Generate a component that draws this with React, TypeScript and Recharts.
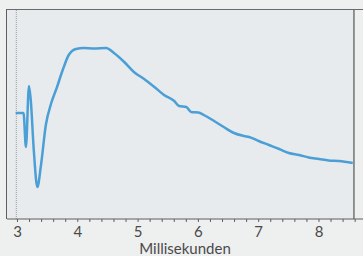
import { LineChart, Line, XAxis, YAxis, ReferenceLine, ReferenceArea, Label } from 'recharts';

// time in ms, response in arbitrary units (no y scale in the original)
const times = [
  2.97, 3.1, 3.14, 3.19, 3.22, 3.27, 3.33, 3.39, 3.47, 3.56, 3.65, 3.75, 3.85, 3.97, 4.1, 4.27, 4.47, 4.6, 4.77,
  4.93, 5.1, 5.27, 5.43, 5.6, 5.68, 5.8, 5.88, 6.0, 6.09, 6.26, 6.42, 6.59, 6.76, 6.84, 7.0, 7.17, 7.34, 7.5,
  7.67, 7.83, 8.0, 8.16, 8.33, 8.56,
];
const response = [
  106, 106, 72, 133, 119, 69, 32, 54, 94, 116, 131, 149, 164, 170, 171, 170.5, 171, 166, 157, 147, 140, 132,
  124, 118, 113, 112, 107, 106.5, 104, 98, 92, 86, 83, 82, 78, 74, 70, 66, 64, 61.5, 60, 58.5, 58, 56,
];
const xTicks = [
  3, 3.2, 3.4, 3.6, 3.8, 4, 4.2, 4.4, 4.6, 4.8, 5, 5.2, 5.4, 5.6, 5.8, 6, 6.2, 6.4, 6.6, 6.8, 7, 7.2, 7.4, 7.6,
  7.8, 8, 8.2, 8.4, 8.6,
];
const xLabel = 'Millisekunden';

const X_MIN = 2.826;
const X_MAX = 8.73;
const X_FRAME = 8.58;
const Y_MAX = 209;

const data = times.map((t, i) => ({ t, v: response[i] }));

export default function App() {
  return (
    <div style={{ position: 'absolute', left: 0, top: 0, width: 363, height: 256, background: '#eeefef' }}>
      <LineChart width={363} height={256} data={data} margin={{ top: 10, right: 0, left: 7, bottom: 0 }}>
        <ReferenceArea x1={X_MIN} x2={X_FRAME} y1={0} y2={Y_MAX} fill="#e8ebed" fillOpacity={1} stroke="none" />
        <XAxis
          dataKey="t"
          type="number"
          domain={[X_MIN, X_MAX]}
          ticks={xTicks}
          allowDataOverflow
          interval={0}
          height={37}
          stroke="#5f5f5f"
          tickSize={3}
          tickMargin={4}
          tick={{ fill: '#4a4a4a', fontSize: 15, fontFamily: 'Lato, sans-serif' }}
          tickFormatter={(v: number) => (Number.isInteger(v) ? String(v) : '')}
        >
          <Label value={xLabel} position="insideBottom" offset={2} fill="#4a4a4a" fontSize={15} fontFamily="Lato, sans-serif" />
        </XAxis>
        <YAxis hide domain={[0, Y_MAX]} />
        <ReferenceLine x={2.98} stroke="#9a9a9a" strokeWidth={1} strokeDasharray="1 1" />
        <ReferenceLine x={X_FRAME} stroke="#5f5f5f" strokeWidth={1.3} />
        <Line type="monotone" dataKey="v" stroke="#4a9fd6" strokeWidth={2.5} dot={false} isAnimationActive={false} />
      </LineChart>
      {/* outer frame: top and left edges */}
      <div
        style={{
          position: 'absolute',
          left: 6,
          top: 9,
          width: 357,
          height: 210,
          borderTop: '1.5px solid #6a6a6a',
          borderLeft: '1.5px solid #5f5f5f',
          boxSizing: 'border-box',
          pointerEvents: 'none',
        }}
      />
    </div>
  );
}
